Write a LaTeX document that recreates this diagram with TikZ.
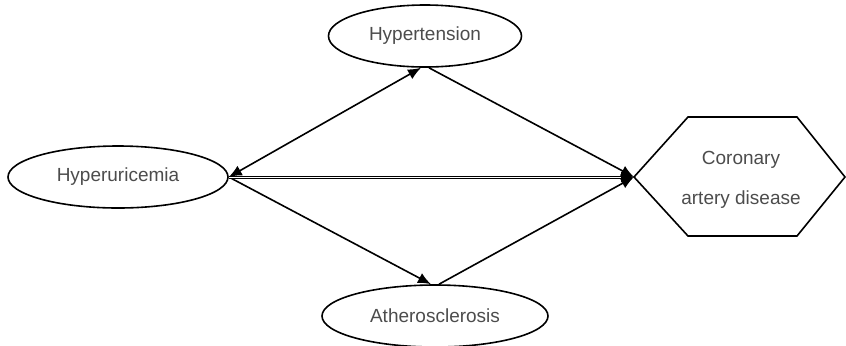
\documentclass[tikz,border=0pt]{standalone}
\usepackage{fontspec}
\setmainfont{Liberation Sans}
\usetikzlibrary{arrows.meta,shapes.geometric}

\begin{document}
\begin{tikzpicture}[x=0.5pt,y=-0.5pt,>={Latex[length=6.5pt,width=5.5pt]},
        oval/.style={ellipse,draw,line width=0.8pt,inner sep=0pt,text=black!70,font=\fontsize{9.5}{11}\selectfont},
        link/.style={line width=0.8pt}]
        % keep the page as large as the reference
        \useasboundingbox (0,0) rectangle (846,345);

        % the three ovals
        \node[oval,minimum width=110pt,minimum height=31pt] (hyperu) at (118,177) {Hyperuricemia};
        \node[oval,minimum width=96.5pt,minimum height=31pt] (hypert) at (425,36) {Hypertension};
        \node[oval,minimum width=113pt,minimum height=31pt] (athero) at (435,316) {Atherosclerosis};

        % the hexagon for the outcome
        \node[text=black!70,font=\fontsize{9.5}{11}\selectfont,align=center] (cad) at (741,180)
                {Coronary\\[9pt]artery disease};
        \coordinate (cadw) at (634,177);
        \draw[link] (cadw) -- (688,117) -- (797,117) -- (845,177)
                -- (797,236) -- (688,236) -- cycle;

        % the arrows
        \draw[link,<->] (hyperu.east) -- ([xshift=-2pt]hypert.south);
        \draw[link,->] ([xshift=2pt]hypert.south) -- (cadw);
        \draw[link,->] (hyperu.east) -- ([xshift=-2pt]athero.north);
        \draw[link,->] ([xshift=2pt]athero.north) -- (cadw);
        \draw[link,->,double,double distance=0.5pt,line width=0.5pt] (hyperu.east) -- (cadw);
\end{tikzpicture}
\end{document}
